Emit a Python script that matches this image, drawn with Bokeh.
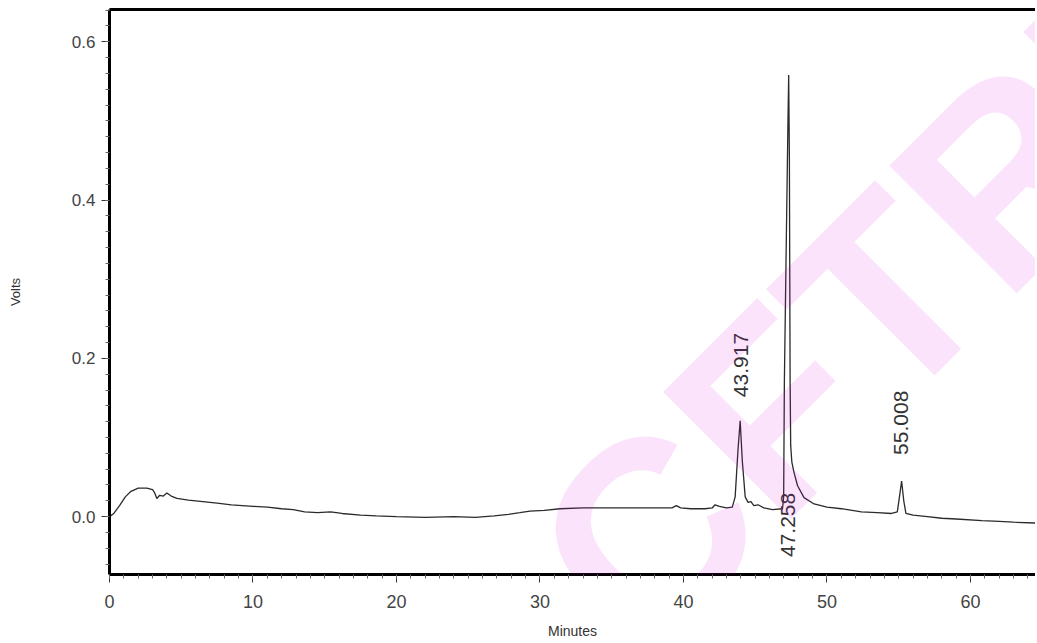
import math
from bokeh.plotting import figure
from bokeh.models import (Range1d, LinearAxis, SingleIntervalTicker, FixedTicker,
                          PrintfTickFormatter, Label, ColumnDataSource)
from bokeh.core.properties import value
from bokeh.embed import file_html
from bokeh.resources import INLINE

# ---- data ----
minutes = [0.0, 0.3, 0.7, 1.1, 1.5, 2.0, 2.6, 3.0, 3.15, 3.3, 3.5, 3.75, 4.0, 4.3, 4.7,
           5.5, 6.5, 7.5, 8.5, 10.0, 11.0, 12.0, 12.8, 13.6, 14.5, 15.4, 16.2, 17.5,
           18.6, 20.0, 22.0, 24.0, 25.5, 26.8, 27.8, 28.6, 29.3, 30.3, 31.4, 33.0,
           35.0, 36.5, 38.0, 39.2, 39.5, 39.8, 40.5, 41.5, 42.0, 42.2, 42.5, 43.0,
           43.4, 43.6, 43.8, 43.95, 44.1, 44.3, 44.5, 44.7, 44.9, 45.2, 45.6, 46.2,
           46.9, 46.98, 47.03, 47.15, 47.28, 47.33, 47.38, 47.43, 47.47, 47.55, 47.7,
           47.95, 48.4, 49.1, 50.0, 51.0, 52.4, 53.5, 54.5, 54.9, 55.05, 55.2, 55.35,
           55.5, 56.0, 57.0, 58.0, 59.0, 60.8, 62.0, 63.0, 64.5]
volts = [0.000, 0.004, 0.014, 0.025, 0.032, 0.036, 0.036, 0.034, 0.030, 0.023, 0.027,
         0.026, 0.030, 0.026, 0.023, 0.021, 0.019, 0.017, 0.015, 0.013, 0.012, 0.010,
         0.009, 0.006, 0.005, 0.006, 0.004, 0.002, 0.001, 0.000, -0.001, 0.000, -0.001,
         0.001, 0.003, 0.005, 0.007, 0.008, 0.010, 0.011, 0.011, 0.011, 0.011, 0.011,
         0.014, 0.011, 0.010, 0.010, 0.011, 0.015, 0.013, 0.011, 0.012, 0.025, 0.085,
         0.121, 0.070, 0.025, 0.018, 0.019, 0.014, 0.015, 0.011, 0.009, 0.010, 0.025,
         0.170, 0.330, 0.500, 0.558, 0.450, 0.170, 0.090, 0.069, 0.056, 0.039, 0.024,
         0.016, 0.012, 0.010, 0.006, 0.005, 0.004, 0.006, 0.025, 0.045, 0.020, 0.004,
         0.002, 0.000, -0.002, -0.003, -0.005, -0.006, -0.007, -0.008]

peak_labels = ["43.917", "47.258", "55.008"]
peak_label_x = [44.0, 47.25, 55.15]
peak_label_y = [0.151, -0.051, 0.078]

x_ticks_step = 10
y_ticks_step = 0.2

p = figure(width=1035, height=641, output_backend="svg", toolbar_location=None,
           x_range=Range1d(0, 64.53), y_range=Range1d(-0.0731, 0.6408),
           min_border_left=109, min_border_right=0, min_border_top=9,
           min_border_bottom=67, x_axis_label="Minutes", y_axis_label="Volts")
p.outline_line_color = None
p.grid.visible = False
p.background_fill_color = "white"
p.border_fill_color = "white"

# axes styling
for ax in (p.xaxis[0], p.yaxis[0]):
    ax.axis_line_width = 3
    ax.axis_line_color = "black"
    ax.major_tick_line_color = "#333333"
    ax.major_tick_line_width = 1
    ax.major_tick_in = 0
    ax.major_tick_out = 8
    ax.minor_tick_line_color = "#666666"
    ax.minor_tick_line_width = 1
    ax.minor_tick_in = 0
    ax.minor_tick_out = 4
    ax.major_label_text_font = "Liberation Sans"
    ax.major_label_text_color = "#444444"
    ax.axis_label_text_font = "Liberation Sans"
    ax.axis_label_text_color = "#333333"
    ax.axis_label_text_font_style = "normal"

p.xaxis[0].ticker = SingleIntervalTicker(interval=x_ticks_step, num_minor_ticks=10)
p.yaxis[0].ticker = SingleIntervalTicker(interval=y_ticks_step, num_minor_ticks=10)
p.yaxis[0].formatter = PrintfTickFormatter(format="%.1f")
p.xaxis[0].major_label_text_font_size = "18px"
p.yaxis[0].major_label_text_font_size = "17px"
p.xaxis[0].major_label_standoff = 12
p.yaxis[0].major_label_standoff = 6
p.xaxis[0].axis_label_text_font_size = "14px"
p.yaxis[0].axis_label_text_font_size = "13px"
p.xaxis[0].axis_label_standoff = 12
p.yaxis[0].axis_label_standoff = 46

top = LinearAxis(ticker=FixedTicker(ticks=[]), axis_line_width=3, axis_line_color="black",
                 major_tick_out=0, minor_tick_out=0, major_label_text_color=None)
p.add_layout(top, "above")

src = ColumnDataSource(data=dict(t=minutes, v=volts))
p.line("t", "v", source=src, line_color="#2b2b2b", line_width=1.3)

lab = ColumnDataSource(data=dict(x=peak_label_x, y=peak_label_y, text=peak_labels))
p.text("x", "y", text="text", source=lab, angle=math.pi / 2,
       text_font=value("Liberation Sans"), text_font_size="21px",
       text_color="#333333", text_align="left", text_baseline="middle")

# watermark (semi-transparent)
wm = Label(x=23.3, y=-0.28, text="\u00a9CFTRI", angle=math.pi / 4,
           text_font="Liberation Sans", text_font_style="bold",
           text_font_size="262px", text_color="#e000e0", text_alpha=0.11,
           text_align="left", text_baseline="alphabetic")
p.add_layout(wm)

open("out.html", "w").write(file_html(p, INLINE))
